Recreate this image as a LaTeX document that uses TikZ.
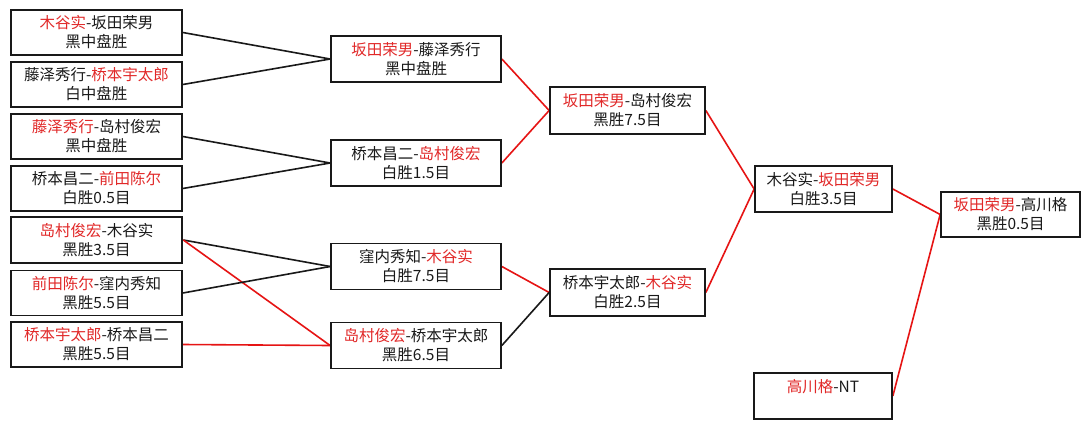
\documentclass[tikz,border=0pt]{standalone}
\usepackage{fontspec}
\newfontfamily\cjk{Noto Sans CJK SC}
\definecolor{wred}{RGB}{230,20,20}
\definecolor{tred}{RGB}{225,40,40}
\definecolor{ink}{RGB}{25,25,25}
\newcommand\redtxt[1]{\textcolor{tred}{#1}}
\pgfdeclarelayer{bgl}
\pgfdeclarelayer{linel}
\pgfsetlayers{bgl,linel,main}
\begin{document}
\begin{tikzpicture}[x=1pt,y=-1pt,
  game/.style={draw=ink,line width=1.7pt,fill=white,rectangle,align=center,inner sep=0pt,
    font=\cjk\fontsize{15.5}{19}\selectfont,text=ink},
  c1/.style={game,minimum width=171pt,minimum height=45pt},
  c2/.style={game,minimum width=170pt,minimum height=46pt},
  c3/.style={game,minimum width=155pt,minimum height=47pt},
  c4/.style={game,minimum width=138pt,minimum height=46pt},
  blk/.style={draw=ink,line width=1.6pt},
  rd/.style={draw=wred,line width=1.6pt}]
\begin{pgfonlayer}{bgl}
\fill[white] (0,0) rectangle (1090,429);
\end{pgfonlayer}
\useasboundingbox (0,0) rectangle (1090,429);
% column 1
\node[c1] (n1) at (96.5,32.5) {\redtxt{木谷实}-坂田荣男\\黑中盘胜};
\node[c1] (n2) at (96.5,84.5) {藤泽秀行-\redtxt{桥本宇太郎}\\白中盘胜};
\node[c1] (n3) at (96.5,136.5) {\redtxt{藤泽秀行}-岛村俊宏\\黑中盘胜};
\node[c1] (n4) at (96.5,188.5) {桥本昌二-\redtxt{前田陈尔}\\白胜0.5目};
\node[c1,line width=2.6pt,minimum height=46pt] (n5) at (96.5,240) {\redtxt{岛村俊宏}-木谷实\\黑胜3.5目};
\node[c1] (n6) at (96.5,293) {\redtxt{前田陈尔}-窪内秀知\\黑胜5.5目};
\node[c1] (n7) at (96.5,344.5) {\redtxt{桥本宇太郎}-桥本昌二\\黑胜5.5目};
% column 2
\node[c2] (a) at (416,59) {\redtxt{坂田荣男}-藤泽秀行\\黑中盘胜};
\node[c2] (b) at (416,163) {桥本昌二-\redtxt{岛村俊宏}\\白胜1.5目};
\node[c2] (c) at (416,266.5) {窪内秀知-\redtxt{木谷实}\\白胜7.5目};
\node[c2] (d) at (416,345.5) {\redtxt{岛村俊宏}-桥本宇太郎\\黑胜6.5目};
% column 3
\node[c3] (e) at (627.5,110.5) {\redtxt{坂田荣男}-岛村俊宏\\黑胜7.5目};
\node[c3] (f) at (627.5,292.5) {桥本宇太郎-\redtxt{木谷实}\\白胜2.5目};
% column 4
\node[c4,minimum width=137pt] (g) at (823.5,189) {木谷实-\redtxt{坂田荣男}\\白胜3.5目};
\node[c4] (i) at (823,396) {\redtxt{高川格}-NT\\\phantom{黑}};
% final
\node[c4,minimum width=139pt,minimum height=45pt] (h) at (1010.5,214.5) {\redtxt{坂田荣男}-高川格\\黑胜0.5目};
% connectors, under the boxes
\begin{pgfonlayer}{linel}
\draw[blk] (n1.east) -- (a.west);
\draw[blk] (n2.east) -- (a.west);
\draw[blk] (n3.east) -- (b.west);
\draw[blk] (n4.east) -- (b.west);
\draw[blk] (n5.east) -- (c.west);
\draw[rd] (n5.east) -- (d.west);
\draw[blk] (n6.east) -- (c.west);
\draw[rd] (n7.east) -- (d.west);
\draw[rd] (a.east) -- (e.west);
\draw[rd] (b.east) -- (e.west);
\draw[rd] (c.east) -- (f.west);
\draw[blk] (d.east) -- (f.west);
\draw[rd] (e.east) -- (g.west);
\draw[rd] (f.east) -- (g.west);
\draw[rd] (g.east) -- (h.west);
\draw[rd] (i.east) -- (h.west);
\end{pgfonlayer}
\end{tikzpicture}
\end{document}
